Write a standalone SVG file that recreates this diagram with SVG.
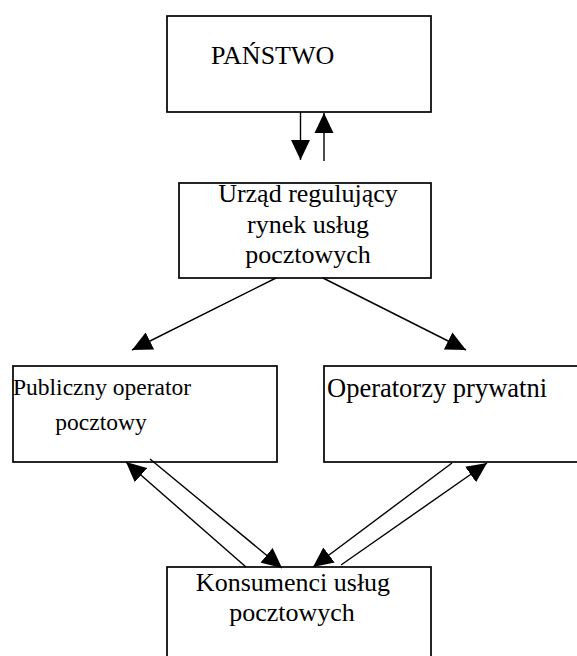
<svg xmlns="http://www.w3.org/2000/svg" width="577" height="656" viewBox="0 0 577 656">
<style>
.box{fill:#fff;stroke:#000;stroke-width:1.7}
.t{font-family:"Liberation Serif","Times New Roman",serif;fill:#000}
.c{stroke:#000;stroke-width:1.4;fill:none;marker-end:url(#ah)}
</style>
<defs>
<marker id="ah" markerUnits="userSpaceOnUse" markerWidth="20" markerHeight="20" refX="20" refY="9.5" orient="auto" viewBox="0 0 20 19">
<path d="M0,0 L20,9.5 L0,19 z" fill="#000"/>
</marker>
</defs>
<rect width="577" height="656" fill="#fff"/>
<g id="panstwo">
<rect class="box" x="167" y="16" width="264" height="96"/>
<text class="t" x="211" y="64" font-size="26">PAŃSTWO</text>
</g>
<g id="urzad">
<rect class="box" x="179" y="183" width="252" height="95"/>
<text class="t" x="308" y="202" font-size="26" text-anchor="middle">Urząd regulujący</text>
<text class="t" x="308" y="233" font-size="26" text-anchor="middle">rynek usług</text>
<text class="t" x="308" y="263" font-size="26" text-anchor="middle">pocztowych</text>
</g>
<g id="publiczny">
<rect class="box" x="13" y="366" width="264" height="96"/>
<text class="t" x="13" y="395" font-size="23.5">Publiczny operator</text>
<text class="t" x="101" y="430" font-size="23.5" text-anchor="middle">pocztowy</text>
</g>
<g id="prywatni">
<rect class="box" x="324" y="366" width="280" height="96"/>
<text class="t" x="327" y="397" font-size="26.5">Operatorzy prywatni</text>
</g>
<g id="konsumenci">
<rect class="box" x="167" y="567" width="264" height="100"/>
<text class="t" x="293" y="591" font-size="26" text-anchor="middle">Konsumenci usług</text>
<text class="t" x="292" y="621" font-size="26" text-anchor="middle">pocztowych</text>
</g>
<g id="connectors">
<line class="c" x1="300.5" y1="112" x2="300.5" y2="160"/>
<line class="c" x1="324" y1="161" x2="324" y2="113"/>
<line class="c" x1="276" y1="278" x2="132" y2="350"/>
<line class="c" x1="323" y1="278" x2="466" y2="350"/>
<line class="c" x1="246" y1="567" x2="126" y2="462"/>
<line class="c" x1="150" y1="459" x2="282" y2="568"/>
<line class="c" x1="452" y1="463" x2="313" y2="567"/>
<line class="c" x1="341" y1="565" x2="487" y2="463"/>
</g>
</svg>
